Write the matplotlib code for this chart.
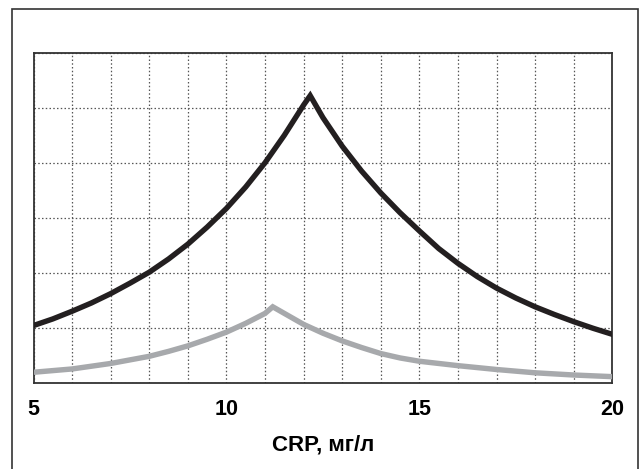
import matplotlib.pyplot as plt
from matplotlib.patches import Rectangle

# values (y in grid units, 0..6)
crp_black = [5, 5.5, 6, 6.5, 7, 7.5, 8, 8.5, 9, 9.5, 10, 10.5, 11, 11.5, 12, 12.17,
             12.5, 13, 13.5, 14, 14.5, 15, 15.5, 16, 16.5, 17, 17.5, 18, 18.5, 19, 19.5, 20]
val_black = [1.04, 1.16, 1.30, 1.45, 1.62, 1.81, 2.01, 2.25, 2.52, 2.83, 3.17, 3.56, 4.00, 4.50, 5.05, 5.22,
             4.82, 4.30, 3.85, 3.45, 3.09, 2.76, 2.44, 2.17, 1.93, 1.72, 1.54, 1.38, 1.24, 1.11, 0.99, 0.88]

crp_gray = [5, 6, 7, 8, 8.5, 9, 9.5, 10, 10.5, 11, 11.2, 12, 12.5, 13, 13.5, 14, 14.5, 15, 15.5, 16,
            17, 18, 19, 20]
val_gray = [0.19, 0.25, 0.35, 0.48, 0.57, 0.67, 0.79, 0.92, 1.08, 1.26, 1.38, 1.06, 0.90, 0.76, 0.64, 0.53,
            0.45, 0.39, 0.35, 0.31, 0.24, 0.18, 0.14, 0.11]

x_ticks = [5, 10, 15, 20]
x_label = "CRP, мг/л"

font = "Liberation Sans"

fig = plt.figure(figsize=(6.42, 4.69), dpi=100)
ax = fig.add_axes([0.0523, 0.184, 0.9014, 0.7036])

ax.plot(crp_black, val_black, color="#231f20", lw=3.9, solid_joinstyle="miter", zorder=3)
ax.plot(crp_gray, val_gray, color="#a7a9ac", lw=3.9, solid_joinstyle="miter", zorder=3)

ax.set_xlim(5, 20)
ax.set_ylim(0, 6)
ax.set_xticks(range(5, 21), minor=True)
ax.set_xticks(x_ticks)
ax.set_xticklabels([str(t) for t in x_ticks], fontfamily=font, fontweight="bold", fontsize=15.5)
ax.set_yticks(range(0, 7))
ax.set_yticklabels([])
ax.tick_params(which="both", length=0, pad=12)
ax.grid(True, which="both", color="#555555", ls=(0, (1.2, 1.8)), lw=0.9)
for s in ax.spines.values():
    s.set_color("#333333")
    s.set_linewidth(1.3)

ax.set_xlabel(x_label, fontfamily=font, fontweight="bold", fontsize=16, labelpad=10)

# outer frame, open at the bottom edge of the image
fig.patches.append(Rectangle((12 / 642, -0.05), 626 / 642, 1.05 - 9 / 469,
                             transform=fig.transFigure, fill=False,
                             edgecolor="#333333", lw=1.2))

fig.savefig("out.png", dpi=100)
